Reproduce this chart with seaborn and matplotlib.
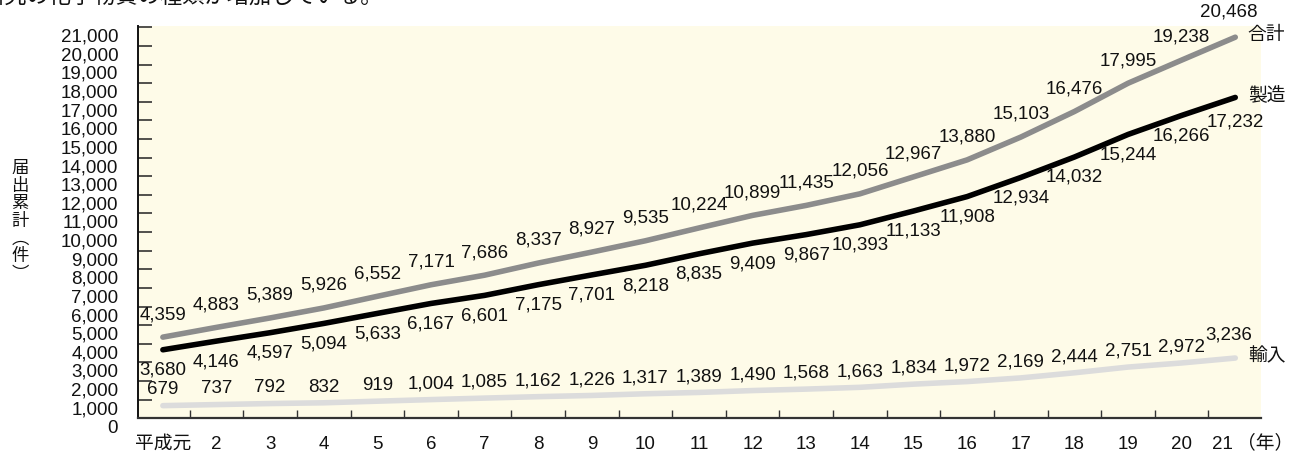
import matplotlib
matplotlib.use("Agg")
import matplotlib.pyplot as plt
import matplotlib.transforms as mtransforms
import pandas as pd
import seaborn as sns

# Cumulative notifications per year (Heisei era)
years = ["平成元"] + [str(i) for i in range(2, 22)]
total = [4359, 4883, 5389, 5926, 6552, 7171, 7686, 8337, 8927, 9535, 10224,
         10899, 11435, 12056, 12967, 13880, 15103, 16476, 17995, 19238, 20468]
manufacture = [3680, 4146, 4597, 5094, 5633, 6167, 6601, 7175, 7701, 8218, 8835,
               9409, 9867, 10393, 11133, 11908, 12934, 14032, 15244, 16266, 17232]
imports = [679, 737, 792, 832, 919, 1004, 1085, 1162, 1226, 1317, 1389,
           1490, 1568, 1663, 1834, 1972, 2169, 2444, 2751, 2972, 3236]
series_names = ["合計", "製造", "輸入"]
y_ticks = list(range(0, 22000, 1000))

sns.set_theme(style="white")
plt.rcParams["font.family"] = ["Liberation Sans", "Noto Sans CJK JP", "DejaVu Sans"]
plt.rcParams["axes.unicode_minus"] = False

rows = []
for name, vals in zip(series_names, [total, manufacture, imports]):
    for i, v in enumerate(vals):
        rows.append({"idx": i, "count": v, "series": name})
df = pd.DataFrame(rows)

palette = {"合計": "#8c8c8c", "製造": "#000000", "輸入": "#dcdcdc"}

fig = plt.figure(figsize=(13, 4.56), dpi=100)
ax = fig.add_axes([0.1059, 0.0805, 0.97 - 0.1059, 0.940 - 0.0805])
ax.set_facecolor("#fefbe8")

sns.lineplot(data=df, x="idx", y="count", hue="series", palette=palette,
             linewidth=4.0, legend=False, ax=ax, solid_capstyle="round")

ax.set_xlim(-0.47, 20.48)
ax.set_ylim(0, 21050)

# spines
for side in ["top", "right"]:
    ax.spines[side].set_visible(False)
ax.spines["left"].set_color("#111111")
ax.spines["left"].set_linewidth(1.4)
ax.spines["bottom"].set_color("#333333")
ax.spines["bottom"].set_linewidth(1.6)

# y axis: inward ticks, labels sitting a little below each tick
ax.set_yticks(y_ticks)
ax.set_yticklabels([f"{v:,}" for v in y_ticks])
ax.tick_params(axis="y", direction="in", length=10, width=1.1, color="#222222",
               pad=14, labelsize=13.5, labelcolor="#111111", left=True)
shift_down = mtransforms.ScaledTranslation(0, -5 / 72, fig.dpi_scale_trans)
for lbl in ax.get_yticklabels():
    lbl.set_transform(lbl.get_transform() + shift_down)

# x axis: labels at categories, tick marks between categories
ax.set_xticks(range(len(years)))
ax.set_xticklabels(years)
ax.set_xticks([i + 0.5 for i in range(len(years) - 1)], minor=True)
ax.tick_params(axis="x", which="major", length=0, pad=12, labelsize=13.5,
               labelcolor="#111111", bottom=True)
ax.tick_params(axis="x", which="minor", direction="in", length=6, width=1.0,
               color="#333333", bottom=True)
shift_left = mtransforms.ScaledTranslation(-9 / 72, 0, fig.dpi_scale_trans)
last_lbl = ax.get_xticklabels()[-1]
last_lbl.set_transform(last_lbl.get_transform() + shift_left)
ax.set_xlabel("")
ax.set_ylabel("")

# value labels; the final year's labels get extra room from the series names
last = len(years) - 1
label_style = dict(ha="center", va="center", fontsize=13.5, color="#111111",
                   textcoords="offset points")
for i, v in enumerate(total):
    off = (-5, 19) if i == last else (0, 17)
    ax.annotate(f"{v:,}", (i, v), xytext=off, **label_style)
for i, v in enumerate(manufacture):
    off = (0, -17) if i == last else (0, -14)
    ax.annotate(f"{v:,}", (i, v), xytext=off, **label_style)
for i, v in enumerate(imports):
    off = (-5, 17) if i == last else (0, 12)
    ax.annotate(f"{v:,}", (i, v), xytext=off, **label_style)

# series names at line ends
for name, vals in zip(series_names, [total, manufacture, imports]):
    ax.annotate(name, (last, vals[-1]), xytext=(9, 2), textcoords="offset points",
                ha="left", va="center", fontsize=13.5, color="#111111")

# unit after the last year label
fig.text(1237 / 1300, 1 - 443 / 456, "（年）", ha="left", va="center",
         fontsize=13.5, color="#111111")

# vertical axis title
fig.text(20 / 1300, 1 - 221 / 456, "\n".join("届出累計︵件︶"), ha="center",
         va="center", fontsize=12.5, linespacing=0.98, color="#111111",
         family=["Noto Sans CJK JP"])

# running heading line cut by the top edge
fig.text(383 / 1300, 1 + 3 / 456, "研究の化学物質の種類が増加している。",
         ha="right", va="center", fontsize=16, color="#111111",
         family=["Noto Sans CJK JP"])

fig.savefig("out.png", dpi=100)
